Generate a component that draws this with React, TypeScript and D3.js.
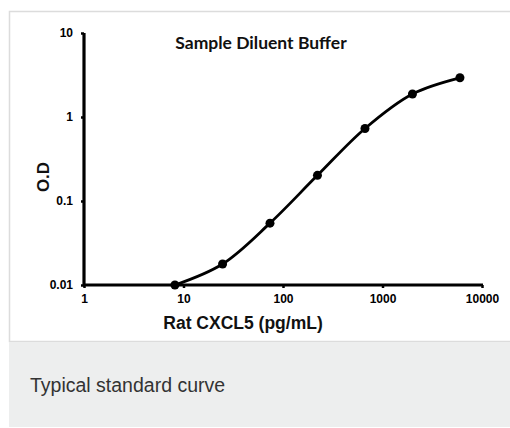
import React, { useEffect, useRef } from 'react';
import * as d3 from 'd3';

// standard curve readings (3-fold dilution series)
const concentrations = [8.2, 24.7, 74, 222, 667, 2000, 6000];
const odValues = [0.01, 0.0178, 0.0545, 0.202, 0.73, 1.88, 2.93];
const xTicks = [1, 10, 100, 1000, 10000];
const yTicks = [0.01, 0.1, 1, 10];

const chartTitle = 'Sample Diluent Buffer';
const xTitle = 'Rat CXCL5 (pg/mL)';
const yTitle = 'O.D';
const caption = 'Typical standard curve';

export default function App() {
  const ref = useRef<SVGSVGElement>(null);

  useEffect(() => {
    const width = 510;
    const svg = d3.select(ref.current);
    svg.selectAll('*').remove();

    // frame + caption panel
    svg.append('rect')
      .attr('x', 9.5).attr('y', 11.5)
      .attr('width', width).attr('height', 330)
      .attr('fill', '#fff').attr('stroke', '#dcdcdc').attr('stroke-width', 1.5);
    svg.append('rect')
      .attr('x', 9).attr('y', 342)
      .attr('width', width).attr('height', 85)
      .attr('fill', '#edeeee');
    svg.append('text')
      .attr('x', 30).attr('y', 392)
      .style('font-family', 'Arial, "Liberation Sans", sans-serif')
      .style('font-size', '19.5px')
      .attr('fill', '#333')
      .text(caption);

    const x = d3.scaleLog().domain([1, 10000]).range([84, 482]);
    const y = d3.scaleLog().domain([0.01, 10]).range([285, 33]);

    const fontAxis = 'Arial, "Liberation Sans", sans-serif';

    // y axis
    const yAxis = svg.append('g')
      .attr('transform', 'translate(84,0)')
      .call(d3.axisLeft(y).tickValues(yTicks).tickFormat(d => String(+d)).tickSize(3).tickPadding(8));
    // x axis
    const xAxis = svg.append('g')
      .attr('transform', 'translate(0,285)')
      .call(d3.axisBottom(x).tickValues(xTicks).tickFormat(d => String(+d)).tickSize(3).tickPadding(6));

    [yAxis, xAxis].forEach(a => {
      a.select('.domain').attr('stroke', '#000').style('stroke-width', '3.2px');
      a.selectAll('.tick line').attr('stroke', '#000').attr('stroke-width', 2.5);
      a.selectAll('.tick text')
        .attr('fill', '#000')
        .style('font-family', fontAxis)
        .style('font-size', '12px')
        .style('font-weight', 'bold');
    });
    yAxis.select('.domain').attr('d', 'M0,33V286');
    xAxis.select('.domain').attr('d', 'M83,0H483');

    // curve
    const pts = concentrations.map((c, i) => [c, odValues[i]] as [number, number]);
    const line = d3.line<[number, number]>()
      .x(d => x(d[0]))
      .y(d => y(d[1]))
      .curve(d3.curveCatmullRom.alpha(0.5));
    svg.append('path')
      .attr('d', line(pts))
      .attr('fill', 'none')
      .attr('stroke', '#000')
      .attr('stroke-width', 2.8);

    svg.selectAll('circle.pt').data(pts).enter().append('circle')
      .attr('class', 'pt')
      .attr('cx', d => x(d[0]))
      .attr('cy', d => y(d[1]))
      .attr('r', 4.5)
      .attr('fill', '#000');

    // titles
    svg.append('text')
      .attr('x', 261).attr('y', 49)
      .attr('text-anchor', 'middle')
      .style('font-family', 'Lato, "Open Sans", sans-serif')
      .style('font-size', '17.5px')
      .style('font-weight', 'bold')
      .attr('fill', '#111')
      .text(chartTitle);
    svg.append('text')
      .attr('x', 243).attr('y', 329)
      .attr('text-anchor', 'middle')
      .style('font-family', fontAxis)
      .style('font-size', '17.5px')
      .style('font-weight', 'bold')
      .attr('fill', '#111')
      .text(xTitle);
    svg.append('text')
      .attr('transform', 'translate(49,177) rotate(-90)')
      .attr('text-anchor', 'middle')
      .style('font-family', fontAxis)
      .style('font-size', '17px')
      .style('font-weight', 'bold')
      .attr('fill', '#111')
      .text(yTitle);
  }, []);

  return (
    <div style={{ position: 'absolute', left: 0, top: 0 }}>
      <svg ref={ref} width={510} height={428} style={{ display: 'block' }} />
    </div>
  );
}
